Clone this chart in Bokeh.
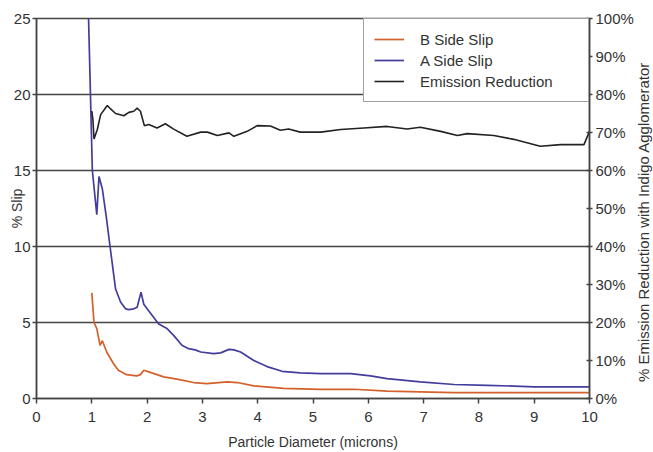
import math
from bokeh.plotting import figure
from bokeh.layouts import row
from bokeh.models import Range1d, LinearAxis, FixedTicker, PrintfTickFormatter, Label
from bokeh.embed import file_html
from bokeh.resources import INLINE

# ---- data ----
x_ticks = [0, 1, 2, 3, 4, 5, 6, 7, 8, 9, 10]
slip_ticks = [0, 5, 10, 15, 20, 25]
pct_ticks = [0, 10, 20, 30, 40, 50, 60, 70, 80, 90, 100]

b_x = [1.0, 1.04, 1.09, 1.15, 1.19, 1.27, 1.39, 1.48, 1.63, 1.81, 1.88, 1.94, 2.03, 2.3,
       2.54, 2.84, 3.08, 3.45, 3.63, 3.93, 4.47, 5.14, 5.74, 6.34, 7.55, 8.5, 9.96, 10.0]
b_y = [6.95, 5.0, 4.6, 3.5, 3.8, 3.06, 2.3, 1.86, 1.57, 1.49, 1.57, 1.86, 1.75, 1.42,
       1.27, 1.05, 0.98, 1.09, 1.05, 0.83, 0.66, 0.6, 0.61, 0.48, 0.39, 0.38, 0.39, 0.39]

a_x = [0.94, 1.01, 1.09, 1.13, 1.19, 1.26, 1.33, 1.43, 1.52, 1.61, 1.67, 1.76, 1.82, 1.89,
       1.94, 2.0, 2.21, 2.36, 2.48, 2.63, 2.75, 2.87, 2.97, 3.2, 3.33, 3.48, 3.57, 3.69,
       3.93, 4.17, 4.44, 4.77, 5.14, 5.68, 6.04, 6.34, 6.94, 7.55, 8.15, 9.0, 10.0]
a_y = [25.2, 15.0, 12.1, 14.6, 13.8, 12.0, 10.0, 7.2, 6.35, 5.9, 5.85, 5.9, 6.0, 7.0,
       6.2, 5.9, 4.9, 4.6, 4.15, 3.5, 3.28, 3.2, 3.06, 2.95, 3.0, 3.23, 3.2, 3.06,
       2.5, 2.1, 1.79, 1.68, 1.64, 1.64, 1.49, 1.31, 1.09, 0.92, 0.87, 0.77, 0.77]

e_x = [1.0, 1.02, 1.04, 1.1, 1.16, 1.28, 1.34, 1.43, 1.58, 1.67, 1.76, 1.82, 1.88, 1.95,
       2.03, 2.18, 2.33, 2.48, 2.72, 2.97, 3.09, 3.27, 3.48, 3.57, 3.81, 3.99, 4.23, 4.41,
       4.56, 4.77, 5.14, 5.5, 5.92, 6.34, 6.7, 6.94, 7.31, 7.61, 7.79, 8.27, 8.63, 9.11,
       9.48, 9.9, 10.0]
e_y = [75.6, 73.4, 68.3, 70.8, 74.7, 77.1, 76.2, 75.0, 74.4, 75.3, 75.6, 76.4, 75.6, 71.8,
       72.1, 71.2, 72.3, 70.9, 69.0, 70.1, 70.1, 69.2, 69.9, 69.0, 70.3, 71.8, 71.7, 70.6,
       70.9, 70.1, 70.1, 70.8, 71.2, 71.6, 70.9, 71.4, 70.3, 69.2, 69.7, 69.2, 68.2, 66.4,
       66.8, 66.8, 70.3]

right_title = "% Emission Reduction with Indigo Agglomerator"

FONT = "Liberation Sans"
DARK = "#444444"
TXT = "#333333"

p = figure(width=636, height=452, output_backend="svg", toolbar_location=None,
           x_range=Range1d(0, 10), y_range=Range1d(0, 25),
           min_border_left=36, min_border_right=45, min_border_top=18, min_border_bottom=52,
           background_fill_color="white", border_fill_color="white")
p.extra_y_ranges = {"pct": Range1d(0, 100)}
p.outline_line_color = DARK
p.outline_line_width = 1.5

# grid
p.xgrid.grid_line_color = None
p.ygrid.ticker = FixedTicker(ticks=slip_ticks)
p.ygrid.grid_line_color = DARK
p.ygrid.grid_line_width = 1.5

# bottom axis
xa = p.xaxis[0]
xa.ticker = FixedTicker(ticks=x_ticks)
xa.axis_label = "Particle Diameter (microns)"
xa.major_tick_out = 5
xa.major_tick_in = 0
xa.minor_tick_line_color = None
xa.major_label_standoff = 8
xa.axis_label_standoff = 9

# left axis
ya = p.yaxis[0]
ya.ticker = FixedTicker(ticks=slip_ticks)
ya.axis_label = "% Slip"
ya.major_tick_out = 4
ya.major_tick_in = 0
ya.minor_tick_line_color = None
ya.major_label_standoff = 2
ya.axis_label_standoff = -14
ya.major_label_orientation = "horizontal"

# right axis (its title is drawn in the narrow panel beside the plot)
ra = LinearAxis(y_range_name="pct", ticker=FixedTicker(ticks=pct_ticks),
                formatter=PrintfTickFormatter(format="%d%%"))
ra.major_tick_out = 3
ra.major_tick_in = 3
ra.minor_tick_line_color = None
ra.major_label_standoff = 3
p.add_layout(ra, "right")

for ax in [xa, ya, ra]:
    ax.axis_line_color = DARK
    ax.axis_line_width = 1.5
    ax.major_tick_line_color = DARK
    ax.major_tick_line_width = 1.5
    ax.major_label_text_font = FONT
    ax.major_label_text_font_size = "15px"
    ax.major_label_text_color = TXT
    ax.axis_label_text_font = FONT
    ax.axis_label_text_font_size = "14px"
    ax.axis_label_text_font_style = "normal"
    ax.axis_label_text_color = TXT

# series
p.line(b_x, b_y, line_color="#d4602c", line_width=1.7, legend_label="B Side Slip")
p.line(a_x, a_y, line_color="#433d9c", line_width=1.7, legend_label="A Side Slip")
p.line(e_x, e_y, y_range_name="pct", line_color="#222222", line_width=1.6,
       legend_label="Emission Reduction")

lg = p.legend[0]
lg.location = "top_right"
lg.margin = 0
lg.padding = 10
lg.spacing = 1
lg.label_height = 20
lg.glyph_height = 20
lg.glyph_width = 30
lg.label_standoff = 16
lg.label_width = 158
lg.border_line_color = DARK
lg.border_line_width = 1.5
lg.background_fill_color = "white"
lg.background_fill_alpha = 1.0
lg.label_text_font = FONT
lg.label_text_font_size = "15px"
lg.label_text_color = TXT

# narrow panel holding the right-hand axis title, reading bottom to top
p2 = figure(width=17, height=452, output_backend="svg", toolbar_location=None,
            x_axis_type=None, y_axis_type=None, x_range=Range1d(0, 17), y_range=Range1d(0, 452),
            min_border=0, background_fill_color="white", border_fill_color="white")
p2.outline_line_color = None
p2.grid.grid_line_color = None
p2.add_layout(Label(x=7, y=210, text=right_title, angle=math.pi / 2,
                    text_align="center", text_baseline="middle",
                    text_font=FONT, text_font_size="15px", text_color=TXT))

layout = row(p, p2, spacing=0)
open("out.html", "w").write(file_html(layout, INLINE))
